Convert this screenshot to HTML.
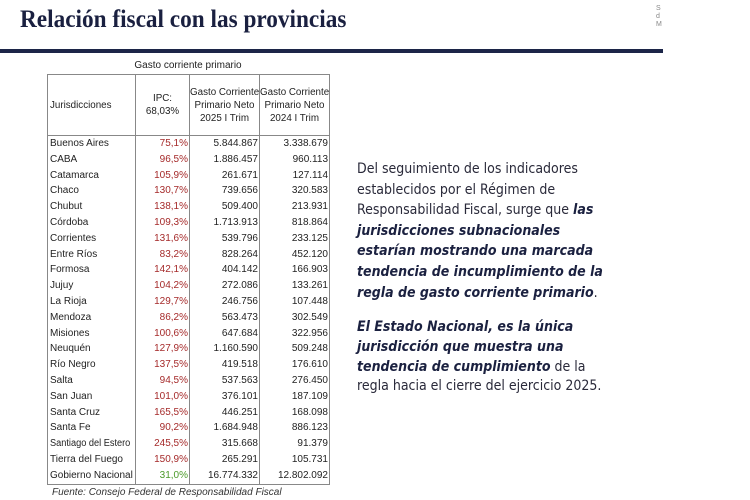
<!DOCTYPE html>
<html><head><meta charset="utf-8"><style>
body{margin:0;width:750px;height:500px;background:#fff;position:relative;overflow:hidden;font-family:"Liberation Sans",sans-serif}
.t{position:absolute;left:20px;top:6px;font-family:"Liberation Serif",serif;font-weight:bold;font-size:25px;color:#1a2040;transform:scaleX(.93);transform-origin:left}
.bar{position:absolute;left:0;top:49px;width:663px;height:4px;background:#1c2548}
.cap{position:absolute;left:47px;top:60px;width:282px;text-align:center;font-size:10px;color:#222}
table{position:absolute;left:47px;top:74px;border-collapse:collapse;table-layout:fixed;width:282px;font-size:10px;color:#222;border:1.5px solid #888}
td{padding:0 1px 0 2px;height:15.8px;line-height:15.8px;border-left:1px solid #888;white-space:nowrap;overflow:hidden}
thead td{height:60px;line-height:13px;text-align:center;border-bottom:1px solid #888;font-size:9.8px;padding:0}
td:nth-child(2){text-align:right;color:#a52a2a}
td:nth-child(3),td:nth-child(4){text-align:right}
thead td:nth-child(n){color:#222;text-align:center}
thead td:nth-child(1){text-align:left;padding-left:2px}
.n{display:inline-block;transform:scaleX(.92);transform-origin:left}
.g{color:#4c9a2a!important}
.src{position:absolute;left:52px;top:487px;font-size:10px;font-style:italic;color:#333}
.p{position:absolute;left:357px;width:330px;font-family:"DejaVu Sans Condensed","DejaVu Sans",sans-serif;font-stretch:condensed;font-size:14px;line-height:20.6px;color:#2a2a3a;white-space:nowrap}
.p b{color:#1b2140;font-style:italic}
.logo{position:absolute;left:656px;top:5px;font-size:7px;line-height:8px;color:#888}
</style></head><body>
<div class="t">Relación fiscal con las provincias</div>
<div class="logo">S<br>d<br>M</div>
<div class="bar"></div>
<div class="cap">Gasto corriente primario</div>
<table>
<colgroup><col style="width:88px"><col style="width:54px"><col style="width:70px"><col style="width:70px"></colgroup>
<thead><tr><td>Jurisdicciones</td><td>IPC:<br>68,03%</td><td>Gasto Corriente<br>Primario Neto<br>2025 I Trim</td><td>Gasto Corriente<br>Primario Neto<br>2024 I Trim</td></tr></thead>
<tbody>
<tr><td>Buenos Aires</td><td>75,1%</td><td>5.844.867</td><td>3.338.679</td></tr>
<tr><td>CABA</td><td>96,5%</td><td>1.886.457</td><td>960.113</td></tr>
<tr><td>Catamarca</td><td>105,9%</td><td>261.671</td><td>127.114</td></tr>
<tr><td>Chaco</td><td>130,7%</td><td>739.656</td><td>320.583</td></tr>
<tr><td>Chubut</td><td>138,1%</td><td>509.400</td><td>213.931</td></tr>
<tr><td>Córdoba</td><td>109,3%</td><td>1.713.913</td><td>818.864</td></tr>
<tr><td>Corrientes</td><td>131,6%</td><td>539.796</td><td>233.125</td></tr>
<tr><td>Entre Ríos</td><td>83,2%</td><td>828.264</td><td>452.120</td></tr>
<tr><td>Formosa</td><td>142,1%</td><td>404.142</td><td>166.903</td></tr>
<tr><td>Jujuy</td><td>104,2%</td><td>272.086</td><td>133.261</td></tr>
<tr><td>La Rioja</td><td>129,7%</td><td>246.756</td><td>107.448</td></tr>
<tr><td>Mendoza</td><td>86,2%</td><td>563.473</td><td>302.549</td></tr>
<tr><td>Misiones</td><td>100,6%</td><td>647.684</td><td>322.956</td></tr>
<tr><td>Neuquén</td><td>127,9%</td><td>1.160.590</td><td>509.248</td></tr>
<tr><td>Río Negro</td><td>137,5%</td><td>419.518</td><td>176.610</td></tr>
<tr><td>Salta</td><td>94,5%</td><td>537.563</td><td>276.450</td></tr>
<tr><td>San Juan</td><td>101,0%</td><td>376.101</td><td>187.109</td></tr>
<tr><td>Santa Cruz</td><td>165,5%</td><td>446.251</td><td>168.098</td></tr>
<tr><td>Santa Fe</td><td>90,2%</td><td>1.684.948</td><td>886.123</td></tr>
<tr><td><span class="n">Santiago del Estero</span></td><td>245,5%</td><td>315.668</td><td>91.379</td></tr>
<tr><td>Tierra del Fuego</td><td>150,9%</td><td>265.291</td><td>105.731</td></tr>
<tr><td>Gobierno Nacional</td><td class="g">31,0%</td><td>16.774.332</td><td>12.802.092</td></tr>
</tbody></table>
<div class="src">Fuente: Consejo Federal de Responsabilidad Fiscal</div>
<div class="p" style="top:159px">Del seguimiento de los indicadores<br>establecidos por el Régimen de<br>Responsabilidad Fiscal, surge que <b>las</b><br><b>jurisdicciones subnacionales</b><br><b>estarían mostrando una marcada</b><br><b>tendencia de incumplimiento de la</b><br><b>regla de gasto corriente primario</b>.</div>
<div class="p" style="top:318px;line-height:19.8px"><b>El Estado Nacional, es la única</b><br><b>jurisdicción que muestra una</b><br><b>tendencia de cumplimiento</b> de la<br>regla hacia el cierre del ejercicio 2025.</div>
</body></html>
